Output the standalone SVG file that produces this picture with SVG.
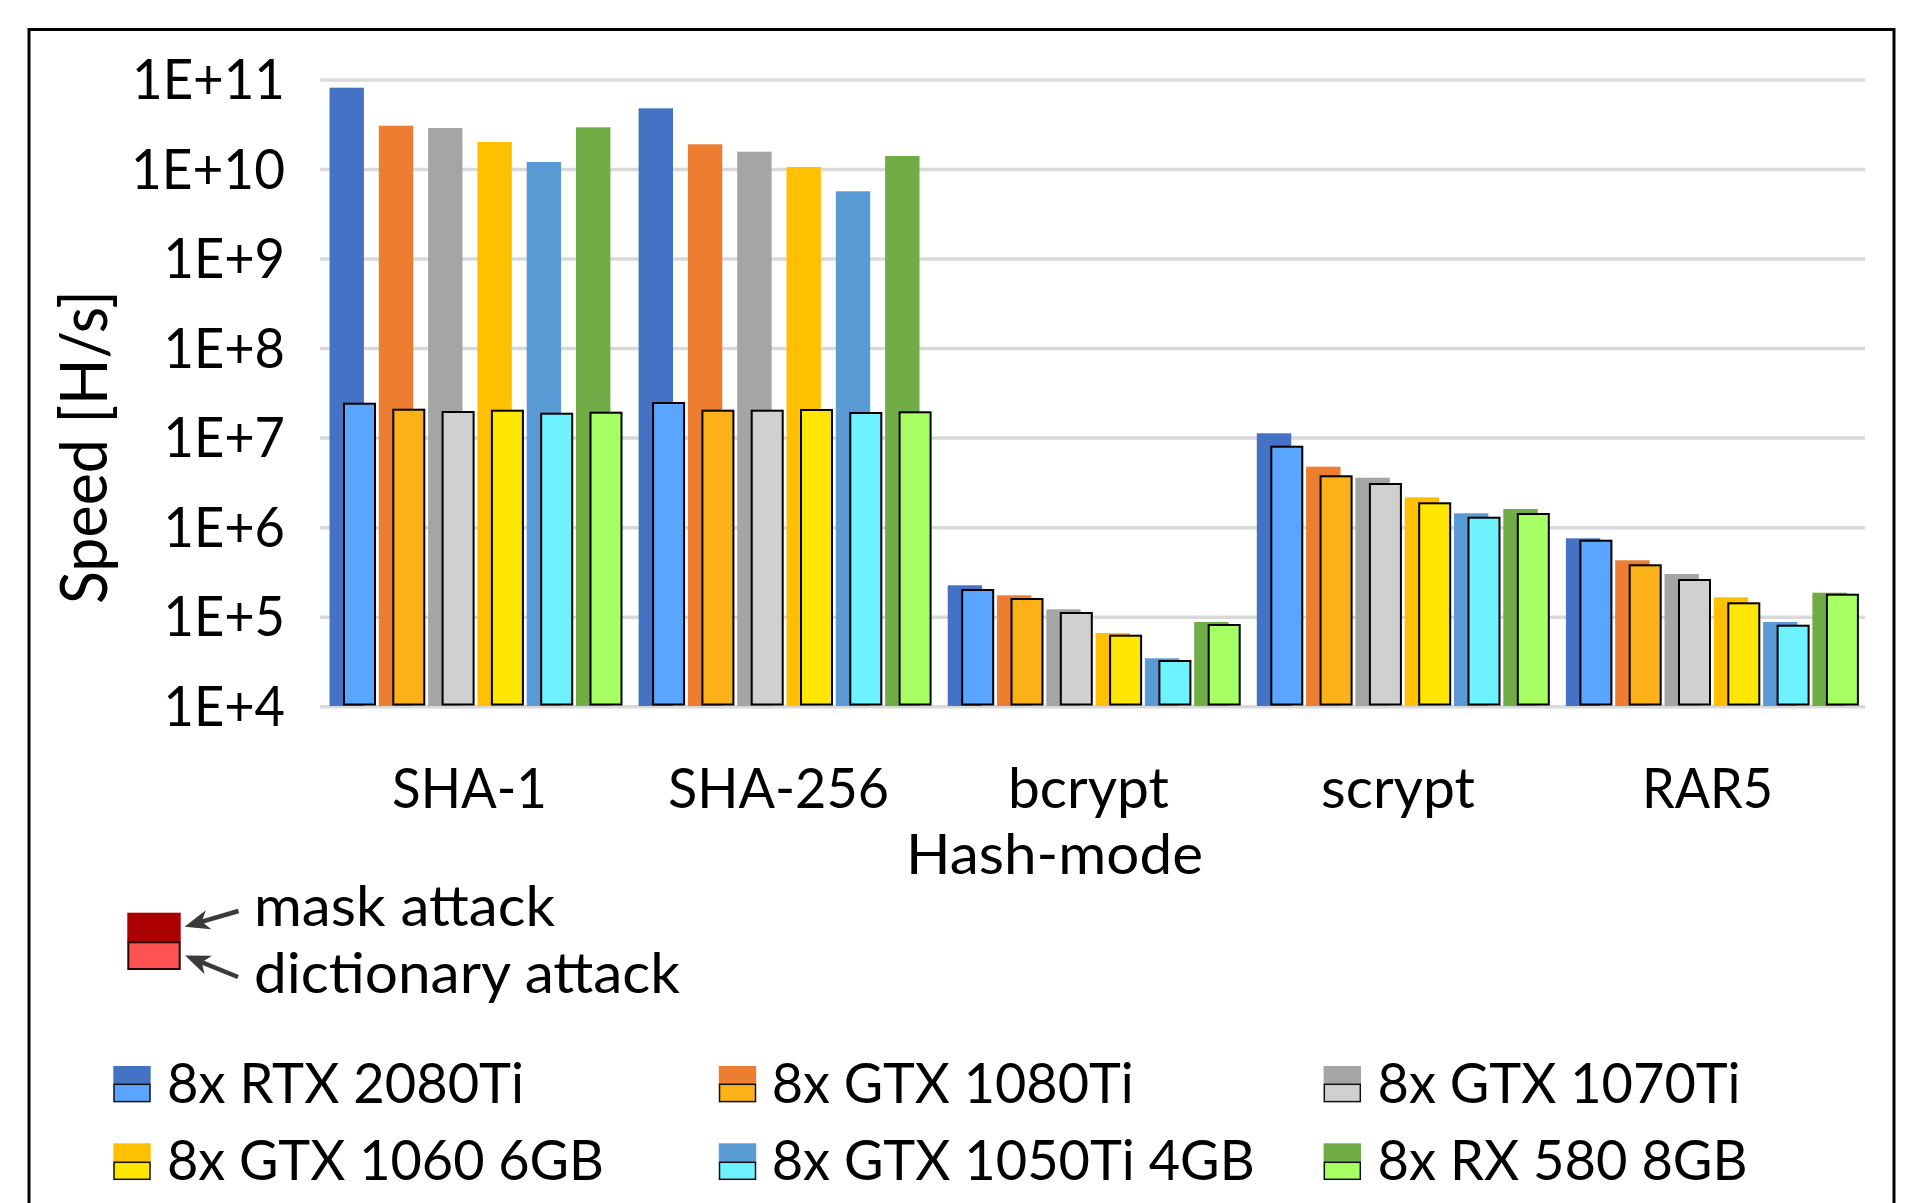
<svg xmlns="http://www.w3.org/2000/svg" width="1912" height="1203" viewBox="0 0 1912 1203">
<style>
text{font-family:Lato,"Liberation Sans",Arial,sans-serif;fill:#000}
.tick{font-size:56px;text-anchor:end}
.cat{font-size:56px}
.leg{font-size:56px}
.grid{stroke:#d9d9d9;stroke-width:3.5}
.b0{fill:#4472C4}.b1{fill:#ED7D31}.b2{fill:#A5A5A5}.b3{fill:#FFC000}.b4{fill:#5B9BD5}.b5{fill:#70AD47}
.f{stroke:#000;stroke-width:2}
.f0{fill:#5AA5FF}.f1{fill:#FBB117}.f2{fill:#D0D0D0}.f3{fill:#FFE600}.f4{fill:#6EF2FF}.f5{fill:#A6FF63}
.li{stroke:#111;stroke-width:1.5}
.arrow{stroke:#3a3a3a;stroke-width:4.5;fill:none;marker-end:url(#stealth)}
</style>
<defs>
<marker id="stealth" viewBox="0 0 10 8" refX="5.6" refY="4" markerUnits="userSpaceOnUse" markerWidth="25" markerHeight="20" orient="auto">
<path d="M0,0 L10,4 L0,8 L2.8,4 z" fill="#3a3a3a"/>
</marker>
</defs>
<rect x="0" y="0" width="1912" height="1203" fill="#fff"/>
<rect id="frame" x="29" y="29.5" width="1865" height="1200" fill="none" stroke="#000" stroke-width="3"/>

<g id="gridlines">
<line class="grid" x1="320" y1="80" x2="1865" y2="80"/>
<line class="grid" x1="320" y1="169.5" x2="1865" y2="169.5"/>
<line class="grid" x1="320" y1="259.1" x2="1865" y2="259.1"/>
<line class="grid" x1="320" y1="348.6" x2="1865" y2="348.6"/>
<line class="grid" x1="320" y1="438.1" x2="1865" y2="438.1"/>
<line class="grid" x1="320" y1="527.7" x2="1865" y2="527.7"/>
<line class="grid" x1="320" y1="617.2" x2="1865" y2="617.2"/>
<line class="grid" x1="320" y1="706.7" x2="1865" y2="706.7"/>
</g>

<g id="y-axis">
<text class="tick" x="285" y="99" textLength="153" lengthAdjust="spacingAndGlyphs">1E+11</text>
<text class="tick" x="285" y="188.5" textLength="154" lengthAdjust="spacingAndGlyphs">1E+10</text>
<text class="tick" x="285" y="278.1" textLength="121.5" lengthAdjust="spacingAndGlyphs">1E+9</text>
<text class="tick" x="285" y="367.6" textLength="121.5" lengthAdjust="spacingAndGlyphs">1E+8</text>
<text class="tick" x="285" y="457.1" textLength="121.5" lengthAdjust="spacingAndGlyphs">1E+7</text>
<text class="tick" x="285" y="546.7" textLength="121.5" lengthAdjust="spacingAndGlyphs">1E+6</text>
<text class="tick" x="285" y="636.2" textLength="121.5" lengthAdjust="spacingAndGlyphs">1E+5</text>
<text class="tick" x="285" y="725.7" textLength="121.5" lengthAdjust="spacingAndGlyphs">1E+4</text>
<text id="y-title" transform="translate(107,447) rotate(-90)" text-anchor="middle" font-size="66" textLength="314" lengthAdjust="spacingAndGlyphs">Speed [H/s]</text>
</g>

<g id="group-sha1">
<rect class="b0" x="329.5" y="87.7" width="34.4" height="618.3"/>
<rect class="b1" x="378.8" y="125.7" width="34.4" height="580.3"/>
<rect class="b2" x="428.1" y="128" width="34.4" height="578"/>
<rect class="b3" x="477.4" y="142" width="34.4" height="564"/>
<rect class="b4" x="526.7" y="162" width="34.4" height="544"/>
<rect class="b5" x="576.0" y="127.3" width="34.4" height="578.7"/>
<rect class="f f0" x="344.0" y="403.7" width="31" height="300.8"/>
<rect class="f f1" x="393.3" y="409.7" width="31" height="294.8"/>
<rect class="f f2" x="442.6" y="412" width="31" height="292.5"/>
<rect class="f f3" x="491.9" y="410.7" width="31" height="293.8"/>
<rect class="f f4" x="541.2" y="413.7" width="31" height="290.8"/>
<rect class="f f5" x="590.5" y="412.7" width="31" height="291.8"/>
<text class="cat" x="392" y="808" textLength="155" lengthAdjust="spacingAndGlyphs">SHA-1</text>
</g>

<g id="group-sha256">
<rect class="b0" x="638.6" y="108.3" width="34.4" height="597.7"/>
<rect class="b1" x="687.9" y="144.3" width="34.4" height="561.7"/>
<rect class="b2" x="737.2" y="151.7" width="34.4" height="554.3"/>
<rect class="b3" x="786.5" y="167" width="34.4" height="539"/>
<rect class="b4" x="835.8" y="191.3" width="34.4" height="514.7"/>
<rect class="b5" x="885.1" y="156" width="34.4" height="550"/>
<rect class="f f0" x="653.1" y="403" width="31" height="301.5"/>
<rect class="f f1" x="702.4" y="410.7" width="31" height="293.8"/>
<rect class="f f2" x="751.7" y="410.7" width="31" height="293.8"/>
<rect class="f f3" x="801.0" y="410" width="31" height="294.5"/>
<rect class="f f4" x="850.3" y="413" width="31" height="291.5"/>
<rect class="f f5" x="899.6" y="412.3" width="31" height="292.2"/>
<text class="cat" x="668" y="808" textLength="221" lengthAdjust="spacingAndGlyphs">SHA-256</text>
</g>

<g id="group-bcrypt">
<rect class="b0" x="947.7" y="585.3" width="34.4" height="120.7"/>
<rect class="b1" x="997.0" y="595.3" width="34.4" height="110.7"/>
<rect class="b2" x="1046.3" y="609.3" width="34.4" height="96.7"/>
<rect class="b3" x="1095.6" y="633" width="34.4" height="73"/>
<rect class="b4" x="1144.9" y="658.3" width="34.4" height="47.7"/>
<rect class="b5" x="1194.2" y="622" width="34.4" height="84"/>
<rect class="f f0" x="962.2" y="590" width="31" height="114.5"/>
<rect class="f f1" x="1011.5" y="599" width="31" height="105.5"/>
<rect class="f f2" x="1060.8" y="613" width="31" height="91.5"/>
<rect class="f f3" x="1110.1" y="635.7" width="31" height="68.8"/>
<rect class="f f4" x="1159.4" y="661" width="31" height="43.5"/>
<rect class="f f5" x="1208.7" y="625" width="31" height="79.5"/>
<text class="cat" x="1008" y="808" textLength="161" lengthAdjust="spacingAndGlyphs">bcrypt</text>
</g>

<g id="group-scrypt">
<rect class="b0" x="1256.8" y="433.3" width="34.4" height="272.7"/>
<rect class="b1" x="1306.1" y="466.7" width="34.4" height="239.3"/>
<rect class="b2" x="1355.4" y="477.7" width="34.4" height="228.3"/>
<rect class="b3" x="1404.7" y="497.3" width="34.4" height="208.7"/>
<rect class="b4" x="1454.0" y="513.3" width="34.4" height="192.7"/>
<rect class="b5" x="1503.3" y="509" width="34.4" height="197"/>
<rect class="f f0" x="1271.3" y="446.7" width="31" height="257.8"/>
<rect class="f f1" x="1320.6" y="476.3" width="31" height="228.2"/>
<rect class="f f2" x="1369.9" y="484" width="31" height="220.5"/>
<rect class="f f3" x="1419.2" y="503.3" width="31" height="201.2"/>
<rect class="f f4" x="1468.5" y="517.7" width="31" height="186.8"/>
<rect class="f f5" x="1517.8" y="514" width="31" height="190.5"/>
<text class="cat" x="1321" y="808" textLength="154" lengthAdjust="spacingAndGlyphs">scrypt</text>
</g>

<g id="group-rar5">
<rect class="b0" x="1565.9" y="538.3" width="34.4" height="167.7"/>
<rect class="b1" x="1615.2" y="560.3" width="34.4" height="145.7"/>
<rect class="b2" x="1664.5" y="574" width="34.4" height="132"/>
<rect class="b3" x="1713.8" y="597.3" width="34.4" height="108.7"/>
<rect class="b4" x="1763.1" y="622" width="34.4" height="84"/>
<rect class="b5" x="1812.4" y="592.7" width="34.4" height="113.3"/>
<rect class="f f0" x="1580.4" y="540.7" width="31" height="163.8"/>
<rect class="f f1" x="1629.7" y="565.3" width="31" height="139.2"/>
<rect class="f f2" x="1679.0" y="580" width="31" height="124.5"/>
<rect class="f f3" x="1728.3" y="603.3" width="31" height="101.2"/>
<rect class="f f4" x="1777.6" y="625.7" width="31" height="78.8"/>
<rect class="f f5" x="1826.9" y="594.7" width="31" height="109.8"/>
<text class="cat" x="1642" y="808" textLength="131" lengthAdjust="spacingAndGlyphs">RAR5</text>
</g>

<text id="x-title" class="cat" x="906" y="874" textLength="297" lengthAdjust="spacingAndGlyphs">Hash-mode</text>

<g id="attack-legend">
<rect x="127.3" y="912.7" width="53.4" height="29.6" fill="#AA0000"/>
<rect x="128.3" y="942.3" width="51.4" height="26.7" fill="#FF5252" stroke="#2a0000" stroke-width="2"/>
<text class="leg" x="254" y="926" font-size="58" textLength="301" lengthAdjust="spacingAndGlyphs">mask attack</text>
<text class="leg" x="254" y="993" font-size="58" textLength="426" lengthAdjust="spacingAndGlyphs">dictionary attack</text>
</g>

<g id="connectors">
<path class="arrow" d="M238.5,911 L195.1,923.7"/>
<path class="arrow" d="M238,977 L195.3,959.7"/>
</g>

<g id="series-legend">
<g id="leg-rtx2080ti">
<rect class="b0" x="113.3" y="1066" width="37.4" height="18.3"/>
<rect class="f0 li" x="114" y="1084.3" width="36" height="17.3"/>
<text class="leg" x="167" y="1102.5" textLength="357" lengthAdjust="spacingAndGlyphs">8x RTX 2080Ti</text>
</g>
<g id="leg-gtx1080ti">
<rect class="b1" x="718.8" y="1066" width="37.4" height="18.3"/>
<rect class="f1 li" x="719.5" y="1084.3" width="36" height="17.3"/>
<text class="leg" x="771.7" y="1102.5" textLength="362" lengthAdjust="spacingAndGlyphs">8x GTX 1080Ti</text>
</g>
<g id="leg-gtx1070ti">
<rect class="b2" x="1323.6" y="1066" width="37.4" height="18.3"/>
<rect class="f2 li" x="1324.3" y="1084.3" width="36" height="17.3"/>
<text class="leg" x="1377.6" y="1102.5" textLength="363" lengthAdjust="spacingAndGlyphs">8x GTX 1070Ti</text>
</g>
<g id="leg-gtx1060">
<rect class="b3" x="113.3" y="1143.3" width="37.4" height="19"/>
<rect class="f3 li" x="114" y="1162.3" width="36" height="17"/>
<text class="leg" x="167" y="1180" textLength="437" lengthAdjust="spacingAndGlyphs">8x GTX 1060 6GB</text>
</g>
<g id="leg-gtx1050ti">
<rect class="b4" x="718.8" y="1143.3" width="37.4" height="19"/>
<rect class="f4 li" x="719.5" y="1162.3" width="36" height="17"/>
<text class="leg" x="771.7" y="1180" textLength="483" lengthAdjust="spacingAndGlyphs">8x GTX 1050Ti 4GB</text>
</g>
<g id="leg-rx580">
<rect class="b5" x="1323.6" y="1143.3" width="37.4" height="19"/>
<rect class="f5 li" x="1324.3" y="1162.3" width="36" height="17"/>
<text class="leg" x="1377.6" y="1180" textLength="370" lengthAdjust="spacingAndGlyphs">8x RX 580 8GB</text>
</g>
</g>
</svg>
